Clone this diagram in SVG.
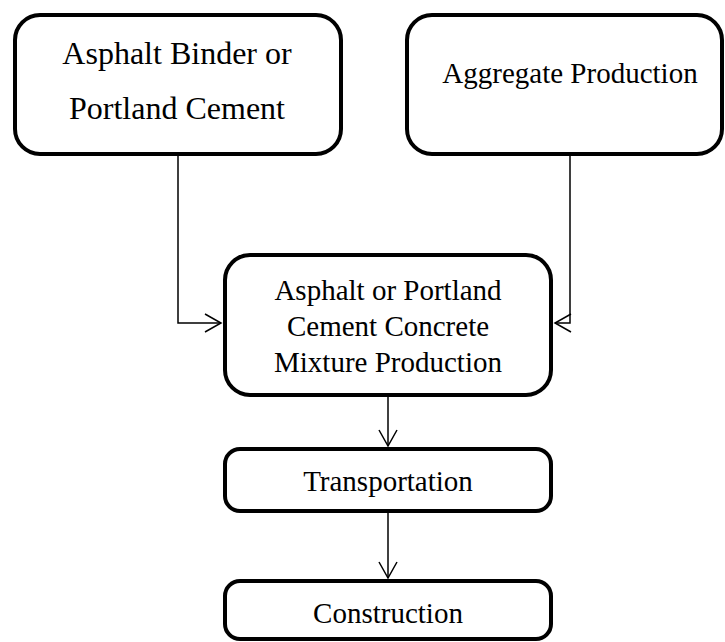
<svg xmlns="http://www.w3.org/2000/svg" width="725" height="642" viewBox="0 0 725 642">
<style>
.box{fill:#fff;stroke:#000;stroke-width:4}
.t{font-family:"Liberation Serif","Times New Roman",serif;fill:#000;text-anchor:middle;font-size:29px}
.c{fill:none;stroke:#000;stroke-width:1.5}
</style>
<defs>
<marker id="ah" markerWidth="20" markerHeight="20" refX="17" refY="10" orient="auto" markerUnits="userSpaceOnUse">
<path d="M1,1 L17,10 L1,19" fill="none" stroke="#000" stroke-width="1.5"/>
</marker>
</defs>
<g id="connectors">
<path class="c" d="M178,156 V323 H221" marker-end="url(#ah)"/>
<path class="c" d="M570,156 V323 H555" marker-end="url(#ah)"/>
<path class="c" d="M388,397 V446" marker-end="url(#ah)"/>
<path class="c" d="M388,513 V578" marker-end="url(#ah)"/>
</g>
<g id="binder">
<rect class="box" x="15" y="15" width="326" height="139" rx="25"/>
<text class="t" style="font-size:32px" x="177" y="64">Asphalt Binder or</text>
<text class="t" style="font-size:32px" x="177" y="119">Portland Cement</text>
</g>
<g id="aggregate">
<rect class="box" x="407" y="15" width="315" height="139" rx="25"/>
<text class="t" x="570" y="83">Aggregate Production</text>
</g>
<g id="mixture">
<rect class="box" x="225" y="255" width="326" height="140" rx="25"/>
<text class="t" x="388" y="300">Asphalt or Portland</text>
<text class="t" x="388" y="336">Cement Concrete</text>
<text class="t" x="388" y="372">Mixture Production</text>
</g>
<g id="transportation">
<rect class="box" x="225" y="449" width="326" height="62" rx="15"/>
<text class="t" x="388" y="491">Transportation</text>
</g>
<g id="construction">
<rect class="box" x="225" y="581" width="326" height="58" rx="15"/>
<text class="t" x="388" y="623">Construction</text>
</g>
</svg>
